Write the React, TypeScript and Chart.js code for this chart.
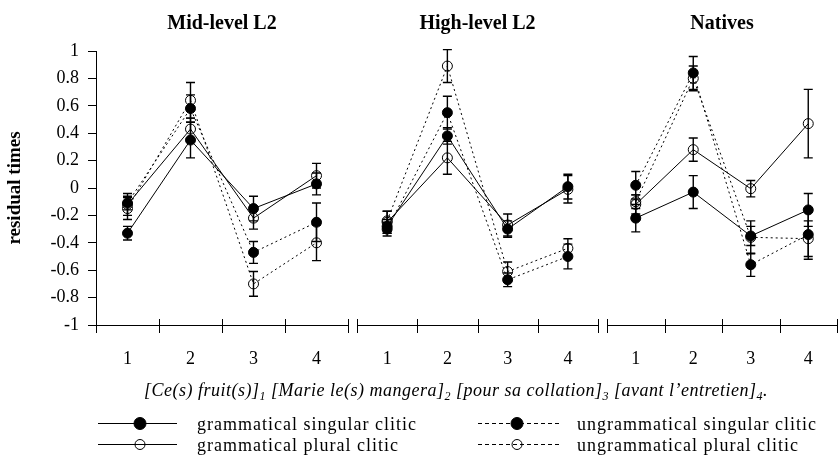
import React, { useEffect, useRef } from 'react';
import { Chart, registerables } from 'chart.js';

Chart.register(...registerables);

// ---------- data ----------
const categories = ['1', '2', '3', '4'];
const panelTitles = ['Mid-level L2', 'High-level L2', 'Natives'];
const seriesNames = [
  'grammatical singular clitic',
  'grammatical plural clitic',
  'ungrammatical singular clitic',
  'ungrammatical plural clitic',
];
const yAxisTitle = 'residual times';
const xTitleParts = ['[Ce(s) fruit(s)]', ' [Marie le(s) mangera]', ' [pour sa collation]', ' [avant l\u2019entretien]'];
const xTitleSubs = ['1', '2', '3', '4'];

// Mid-level L2
const midGramSing = [-0.33, 0.35, -0.15, 0.03];
const midGramSingErr = [0.05, 0.13, 0.09, 0.08];
const midGramPlur = [-0.12, 0.43, -0.22, 0.09];
const midGramPlurErr = [0.08, 0.08, 0.08, 0.09];
const midUngrSing = [-0.11, 0.58, -0.47, -0.25];
const midUngrSingErr = [0.05, 0.1, 0.08, 0.14];
const midUngrPlur = [-0.15, 0.64, -0.7, -0.4];
const midUngrPlurErr = [0.08, 0.13, 0.09, 0.13];

// High-level L2
const highGramSing = [-0.28, 0.38, -0.3, 0.01];
const highGramSingErr = [0.05, 0.06, 0.06, 0.09];
const highGramPlur = [-0.25, 0.22, -0.27, -0.01];
const highGramPlurErr = [0.08, 0.12, 0.08, 0.1];
const highUngrSing = [-0.3, 0.55, -0.67, -0.5];
const highUngrSingErr = [0.05, 0.12, 0.05, 0.09];
const highUngrPlur = [-0.24, 0.89, -0.61, -0.44];
const highUngrPlurErr = [0.07, 0.12, 0.07, 0.07];

// Natives
const natGramSing = [-0.22, -0.03, -0.35, -0.16];
const natGramSingErr = [0.1, 0.12, 0.07, 0.12];
const natGramPlur = [-0.12, 0.28, -0.005, 0.47];
const natGramPlurErr = [0.07, 0.085, 0.06, 0.25];
const natUngrSing = [0.02, 0.84, -0.56, -0.34];
const natUngrSingErr = [0.1, 0.12, 0.085, 0.18];
const natUngrPlur = [-0.1, 0.8, -0.36, -0.37];
const natUngrPlurErr = [0.05, 0.09, 0.12, 0.13];

const panels = [
  {
    title: panelTitles[0],
    series: [midGramSing, midGramPlur, midUngrSing, midUngrPlur],
    errors: [midGramSingErr, midGramPlurErr, midUngrSingErr, midUngrPlurErr],
  },
  {
    title: panelTitles[1],
    series: [highGramSing, highGramPlur, highUngrSing, highUngrPlur],
    errors: [highGramSingErr, highGramPlurErr, highUngrSingErr, highUngrPlurErr],
  },
  {
    title: panelTitles[2],
    series: [natGramSing, natGramPlur, natUngrSing, natUngrPlur],
    errors: [natGramSingErr, natGramPlurErr, natUngrSingErr, natUngrPlurErr],
  },
];

// ---------- layout / style ----------
const FONT = "'Liberation Serif', 'Times New Roman', serif";
const W = 843;
const H = 464;
const PLOT_TOP = 51;
const AXIS_Y = 325;
const PANEL_BOUNDS = [
  [96, 348],
  [357, 598],
  [607, 843],
];
const DOT = [2, 3];
const seriesStyles = [
  { dash: [] as number[], filled: true },
  { dash: [] as number[], filled: false },
  { dash: DOT, filled: true },
  { dash: DOT, filled: false },
];

const errorBarPlugin = {
  id: 'errorBars',
  afterDatasetsDraw(chart: any) {
    const ctx = chart.ctx;
    const y = chart.scales.y;
    ctx.save();
    ctx.strokeStyle = '#000';
    ctx.lineWidth = 1.4;
    chart.data.datasets.forEach((ds: any, di: number) => {
      const meta = chart.getDatasetMeta(di);
      ds.errors.forEach((e: number, i: number) => {
        const pt = meta.data[i];
        const v = ds.data[i];
        const top = y.getPixelForValue(v + e);
        const bot = y.getPixelForValue(v - e);
        ctx.beginPath();
        ctx.moveTo(pt.x, top);
        ctx.lineTo(pt.x, bot);
        ctx.moveTo(pt.x - 4.5, top);
        ctx.lineTo(pt.x + 4.5, top);
        ctx.moveTo(pt.x - 4.5, bot);
        ctx.lineTo(pt.x + 4.5, bot);
        ctx.stroke();
      });
    });
    ctx.restore();
  },
};

const panelDecorPlugin = (title: string) => ({
  id: 'panelDecor',
  afterDraw(chart: any) {
    const ctx = chart.ctx;
    const { left, right, bottom } = chart.chartArea;
    ctx.save();
    ctx.strokeStyle = '#000';
    ctx.lineWidth = 1;
    for (let i = 0; i <= categories.length; i++) {
      const x = Math.round(left + (i * (right - left)) / categories.length) + 0.5;
      ctx.beginPath();
      ctx.moveTo(x, bottom - 6);
      ctx.lineTo(x, bottom + 8);
      ctx.stroke();
    }
    ctx.fillStyle = '#000';
    ctx.font = `bold 20px ${FONT}`;
    ctx.textAlign = 'center';
    ctx.textBaseline = 'alphabetic';
    ctx.fillText(title, (left + right) / 2, 29);
    ctx.restore();
  },
});

function drawMarker(ctx: CanvasRenderingContext2D, x: number, y: number, r: number, filled: boolean) {
  ctx.beginPath();
  ctx.setLineDash([]);
  ctx.arc(x, y, r, 0, Math.PI * 2);
  if (filled) {
    ctx.fillStyle = '#000';
    ctx.fill();
  }
  ctx.strokeStyle = '#000';
  ctx.lineWidth = 1;
  ctx.stroke();
}

const footerPlugin = {
  id: 'footer',
  afterDraw(chart: any) {
    const ctx: any = chart.ctx;
    ctx.save();
    ctx.fillStyle = '#000';
    // x-axis title with subscripts
    const mainFont = `italic 18px ${FONT}`;
    const subFont = `italic 12px ${FONT}`;
    ctx.letterSpacing = '0.5px';
    let total = 0;
    xTitleParts.forEach((p, i) => {
      ctx.font = mainFont;
      total += ctx.measureText(p).width;
      ctx.font = subFont;
      total += ctx.measureText(xTitleSubs[i]).width;
    });
    ctx.font = mainFont;
    total += ctx.measureText('.').width;
    let x = 456 - total / 2;
    const base = 396;
    ctx.textAlign = 'left';
    ctx.textBaseline = 'alphabetic';
    xTitleParts.forEach((p, i) => {
      ctx.font = mainFont;
      ctx.fillText(p, x, base);
      x += ctx.measureText(p).width;
      ctx.font = subFont;
      ctx.fillText(xTitleSubs[i], x, base + 4);
      x += ctx.measureText(xTitleSubs[i]).width;
    });
    ctx.font = mainFont;
    ctx.fillText('.', x, base);

    // legend
    const cols = [
      { l0: 98, l1: 177, m: 140, t: 197, dash: [] as number[] },
      { l0: 478, l1: 562, m: 517, t: 577, dash: [4, 3] },
    ];
    const rows = [423, 444];
    ctx.letterSpacing = '1px';
    seriesNames.forEach((name, si) => {
      const col = cols[si < 2 ? 0 : 1];
      const y = rows[si % 2];
      const filled = seriesStyles[si].filled;
      ctx.strokeStyle = '#000';
      ctx.lineWidth = 1.2;
      ctx.setLineDash(col.dash);
      ctx.beginPath();
      ctx.moveTo(col.l0, y + 0.5);
      ctx.lineTo(col.l1, y + 0.5);
      ctx.stroke();
      drawMarker(ctx, col.m, y + 0.5, filled ? 6 : 5, filled);
      ctx.fillStyle = '#000';
      ctx.font = `18px ${FONT}`;
      ctx.textAlign = 'left';
      ctx.fillText(name, col.t, y + 7);
    });
    ctx.restore();
  },
};

function makeConfig(p: any, idx: number): any {
  const [left, right] = PANEL_BOUNDS[idx];
  const first = idx === 0;
  return {
    type: 'line',
    data: {
      labels: categories,
      datasets: p.series.map((vals: number[], si: number) => ({
        label: seriesNames[si],
        data: vals,
        errors: p.errors[si],
        borderColor: '#000',
        borderWidth: 1,
        borderDash: seriesStyles[si].dash,
        pointRadius: 5,
        pointHoverRadius: 5,
        pointBackgroundColor: seriesStyles[si].filled ? '#000' : 'rgba(0,0,0,0)',
        pointBorderColor: '#000',
        pointBorderWidth: 1,
        fill: false,
        tension: 0,
        clip: false,
      })),
    },
    options: {
      responsive: false,
      animation: false,
      events: [],
      layout: { padding: { left: first ? 0 : left, right: W - right, top: PLOT_TOP, bottom: 0 } },
      plugins: { legend: { display: false }, tooltip: { enabled: false }, title: { display: false } },
      scales: {
        x: {
          type: 'category',
          offset: true,
          grid: { display: false, offset: true },
          border: { display: true, color: '#000', width: 1 },
          ticks: { font: { family: FONT, size: 18 }, color: '#000', padding: 15, maxRotation: 0, autoSkip: false },
          afterFit: (s: any) => {
            s.height = H - AXIS_Y;
          },
        },
        y: {
          display: first,
          min: -1,
          max: 1,
          ticks: {
            stepSize: 0.2,
            callback: (v: number) => String(Math.round(v * 10) / 10),
            font: { family: FONT, size: 18 },
            color: '#000',
            padding: 9,
          },
          grid: { drawOnChartArea: false, tickLength: 8, color: '#000' },
          border: { display: true, color: '#000', width: 1 },
          title: {
            display: true,
            text: yAxisTitle,
            font: { family: FONT, size: 19, weight: 'bold' },
            color: '#000',
            padding: { top: 4, bottom: 0 },
          },
          afterFit: (s: any) => {
            if (first) s.width = left;
          },
        },
      },
    },
    plugins: [errorBarPlugin, panelDecorPlugin(p.title), ...(first ? [footerPlugin] : [])],
  };
}

export default function App() {
  const r0 = useRef<HTMLCanvasElement>(null);
  const r1 = useRef<HTMLCanvasElement>(null);
  const r2 = useRef<HTMLCanvasElement>(null);
  const refs = [r0, r1, r2];
  useEffect(() => {
    const charts = panels.map((p, i) => new Chart(refs[i].current as HTMLCanvasElement, makeConfig(p, i)));
    return () => charts.forEach((c) => c.destroy());
  }, []);
  return (
    <div style={{ position: 'fixed', left: 0, top: 0, width: 840, height: 464, overflow: 'hidden', background: '#fff' }}>
      {panels.map((p, i) => (
        <canvas
          key={i}
          ref={refs[i]}
          width={W}
          height={H}
          style={{ position: 'absolute', left: 0, top: 0, width: W, height: H }}
        />
      ))}
    </div>
  );
}
